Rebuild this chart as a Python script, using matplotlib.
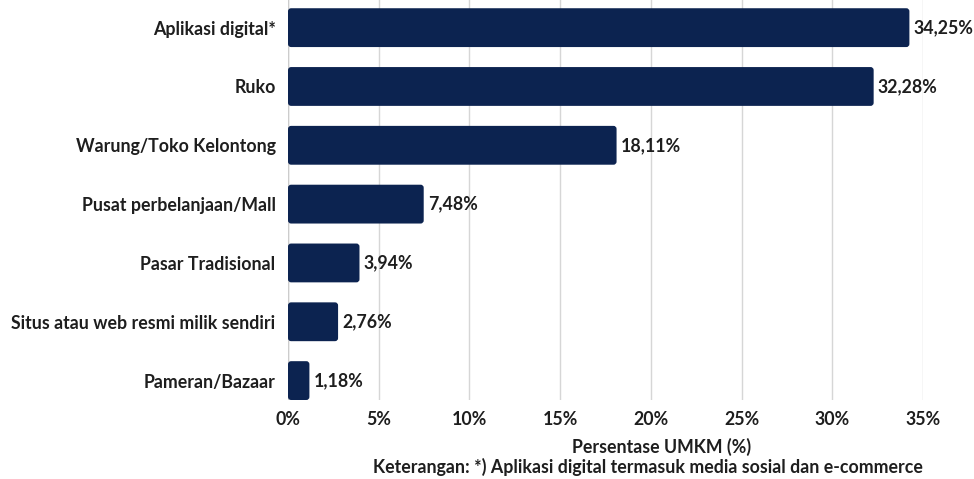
import matplotlib
matplotlib.use("Agg")
import matplotlib.pyplot as plt
from matplotlib.patches import FancyBboxPatch

categories = ["Aplikasi digital*", "Ruko", "Warung/Toko Kelontong",
              "Pusat perbelanjaan/Mall", "Pasar Tradisional",
              "Situs atau web resmi milik sendiri", "Pameran/Bazaar"]
values = [34.25, 32.28, 18.11, 7.48, 3.94, 2.76, 1.18]
ticks = [0, 5, 10, 15, 20, 25, 30, 35]

navy = "#0c2350"
ink = "#1e1e1e"
fs = 12.8
plt.rcParams['font.family'] = ['Lato', 'DejaVu Sans']
plt.rcParams['font.weight'] = 'bold'

fig = plt.figure(figsize=(9.74, 4.79), dpi=100)
left_px, right_px = 288, 923
ax = fig.add_axes([left_px/974, 1 - 400/479, (right_px-left_px)/974, 400/479])

bh = 0.66
ypos = list(range(len(categories)))
bars = ax.barh(ypos, values, height=bh, color=navy)

# swap the plain rectangles for slightly rounded ones
px_x = (right_px - left_px) / 35.0
px_y = 400 / 6.8
for b in bars:
    x0, y0 = b.get_x(), b.get_y()
    w, h = b.get_width(), b.get_height()
    b.set_visible(False)
    ax.add_patch(FancyBboxPatch((x0, y0), w, h,
                                boxstyle="round,pad=0,rounding_size=0.17",
                                mutation_aspect=px_x / px_y,
                                facecolor=navy, edgecolor="none", zorder=3))

for y, v in zip(ypos, values):
    ax.text(v + 0.22, y, f"{v:.2f}%".replace(".", ","), va="center", ha="left",
            fontsize=fs, color=ink, fontweight="bold", zorder=4)

ax.set_xlim(0, 35)
ax.set_ylim(6 + bh/2, -0.47)
ax.set_yticks(ypos)
ax.set_yticklabels(categories, fontsize=fs, color=ink)
ax.set_xticks(ticks)
ax.set_xticklabels([f"{t}%" for t in ticks], fontsize=fs, color=ink)
ax.tick_params(axis="y", length=0, pad=9)
ax.tick_params(axis="x", length=0, pad=8)
ax.grid(axis="x", color="#d6d6d6", linewidth=1, zorder=0)
ax.set_axisbelow(True)
for s in ax.spines.values():
    s.set_visible(False)
ax.axvline(0, color="#cccccc", linewidth=1, zorder=1)

fig.text(662/974, 1 - 447/479, "Persentase UMKM (%)", ha="center", va="center",
         fontsize=fs, color=ink)
fig.text(648/974, 1 - 467/479,
         "Keterangan: *) Aplikasi digital termasuk media sosial dan e-commerce",
         ha="center", va="center", fontsize=fs, color=ink)

fig.savefig("out.png", dpi=100)
